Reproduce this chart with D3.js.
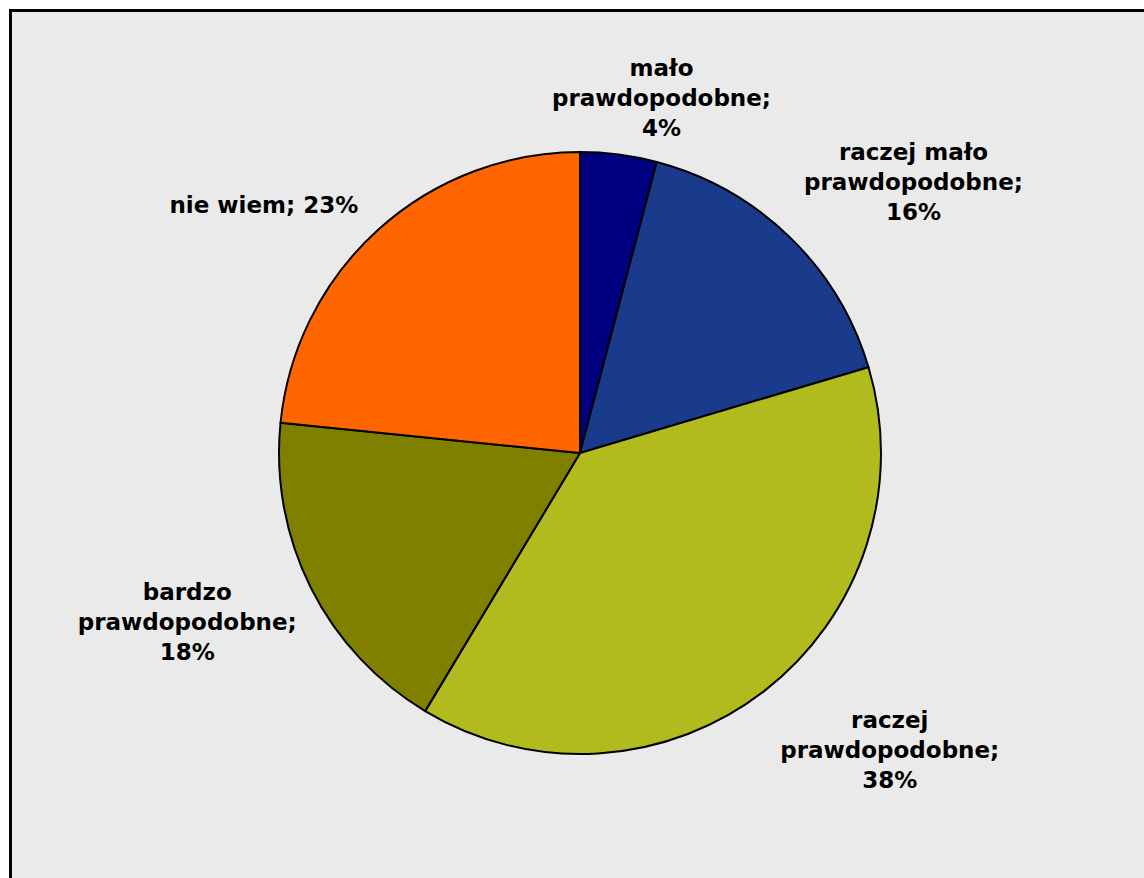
<!DOCTYPE html>
<html>
<head>
<meta charset="utf-8">
<script src="https://cdn.jsdelivr.net/npm/d3@7"></script>
<style>
  html, body { margin: 0; padding: 0; background: #ffffff; }
  svg { display: block; }
</style>
</head>
<body>
<div id="chart"></div>
<script>
// slice categories, clockwise from 12 o'clock
var categories = ["mało prawdopodobne", "raczej mało prawdopodobne", "raczej prawdopodobne",
                  "bardzo prawdopodobne", "nie wiem"];
// shares (%)
var values = [4.1, 16.3, 38.2, 18.0, 23.4];
// label text per line, the last line gets the rounded percentage
var labelLines = [["mało", "prawdopodobne;"], ["raczej mało", "prawdopodobne;"],
                  ["raczej", "prawdopodobne;"], ["bardzo", "prawdopodobne;"], ["nie wiem;"]];
var colours = ["#000080", "#1a3b8b", "#b2bb1e", "#808000", "#ff6600"];

// layout
var W = 1144, H = 878;
var cx = 580, cy = 453, R = 301;
var lineH = 30;
// label anchor = outer-arc centroid + nudge (Excel puts them a bit oddly)
var labelR = 370;
var labelNudge = [[34, 12], [76, -5], [83, 5], [-62, 3], [-68, 26]];

var svg = d3.select("#chart").append("svg")
    .attr("width", W).attr("height", H);

// chart area with black frame running off right/bottom edge
svg.append("rect")
    .attr("x", 10.5).attr("y", 10.5)
    .attr("width", W + 20).attr("height", H + 20)
    .attr("fill", "#eaeaea")
    .attr("stroke", "#000").attr("stroke-width", 3);

var pie = d3.pie().sort(null).value(function (d) { return d; });
var arcs = pie(values);
var arc = d3.arc().innerRadius(0).outerRadius(R);
var labelArc = d3.arc().innerRadius(labelR).outerRadius(labelR);

var g = svg.append("g").attr("transform", "translate(" + cx + "," + cy + ")");

g.selectAll("path.slice")
  .data(arcs)
  .enter().append("path")
    .attr("class", "slice")
    .attr("d", arc)
    .attr("fill", function (d, i) { return colours[i]; })
    .attr("stroke", "#000")
    .attr("stroke-width", 2)
    .attr("stroke-linejoin", "round");

var labels = g.selectAll("text.lbl")
  .data(arcs)
  .enter().append("text")
    .attr("class", "lbl")
    .attr("text-anchor", "middle")
    .style("font-family", "'DejaVu Sans', Verdana, sans-serif")
    .style("font-weight", "bold")
    .style("font-size", "23px")
    .attr("fill", "#000");

labels.each(function (d, i) {
    var c = labelArc.centroid(d);
    var x = c[0] + labelNudge[i][0];
    var y = c[1] + labelNudge[i][1];
    var lines = labelLines[i].slice();
    var pct = Math.round(values[i]) + "%";
    if (lines.length === 1) lines[0] = lines[0] + " " + pct;
    else lines.push(pct);
    var top = y - (lines.length - 1) * lineH / 2;
    var t = d3.select(this);
    lines.forEach(function (s, k) {
        t.append("tspan")
          .attr("x", x)
          .attr("y", top + k * lineH)
          .attr("dy", "0.35em")
          .text(s);
    });
});
</script>
</body>
</html>
